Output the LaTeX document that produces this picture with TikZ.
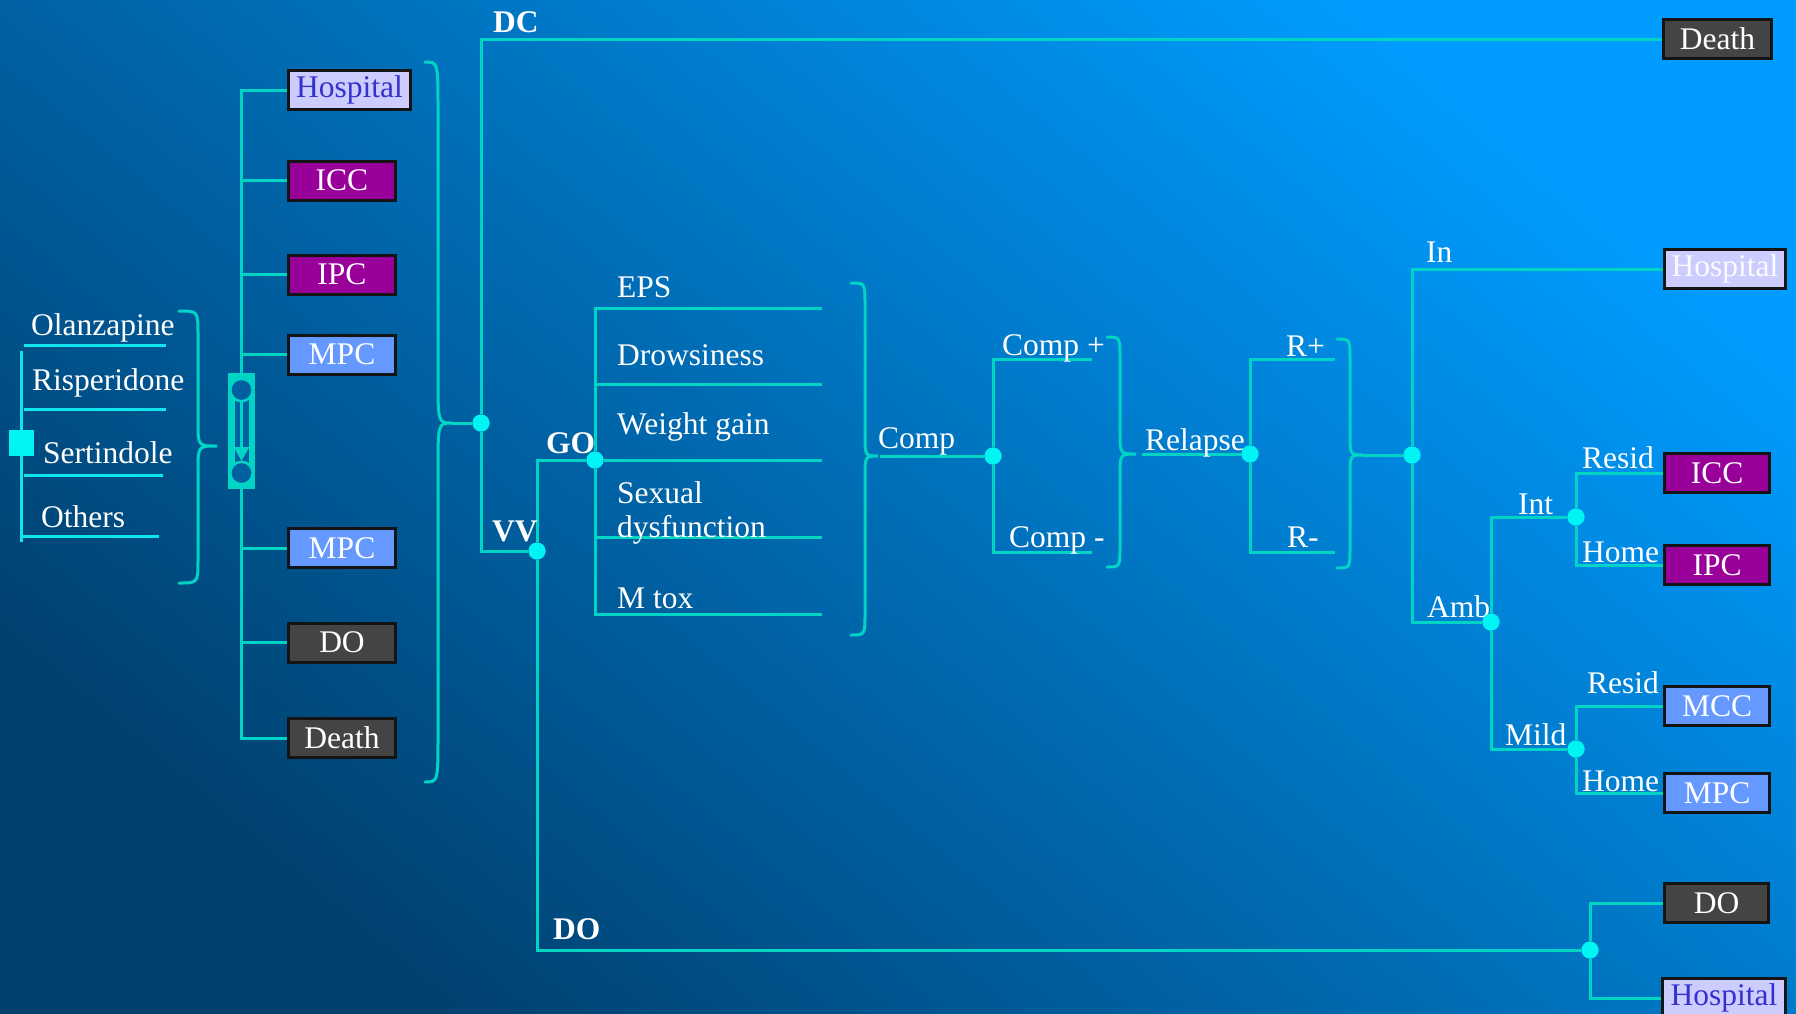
\documentclass[tikz,border=0pt]{standalone}
\usepackage{fontspec}
\setmainfont{Liberation Serif}
\usetikzlibrary{arrows.meta}
\definecolor{bgdark}{HTML}{00406F}
\definecolor{bgbright}{HTML}{009CFF}
\definecolor{tl}{HTML}{00D4C4}
\definecolor{dlc}{HTML}{10E4EC}
\definecolor{cy}{HTML}{00F4F4}
\definecolor{lav}{HTML}{CCCCFF}
\definecolor{purp}{HTML}{990099}
\definecolor{mblue}{HTML}{6699FF}
\definecolor{dgrey}{HTML}{444444}
\definecolor{hblue}{HTML}{3333CC}
\definecolor{mkbg}{HTML}{0060A0}
\newcommand\mybrace[7]{%
  \draw[brc] (#1,#4) .. controls (#2,#4) .. (#2,{#4+#7}) -- (#2,{#5-#7})
    .. controls (#2,#5) .. (#3,#5) .. controls (#2,#5) .. (#2,{#5+#7})
    -- (#2,{#6-#7}) .. controls (#2,#6) .. (#1,#6);}
\begin{document}
\begin{tikzpicture}[x=1pt,y=-1pt,
  every node/.style={font=\fontsize{31.5}{36}\selectfont, text=white},
  conn/.style={draw=tl, line width=3pt},
  dlist/.style={draw=dlc, line width=3pt},
  brc/.style={draw=tl, line width=3pt, line cap=round},
  dot/.style={circle, fill=cy, inner sep=0pt, minimum size=17pt},
  lbl/.style={anchor=base west, inner sep=0pt},
  blbl/.style={lbl, font=\fontsize{31.5}{36}\selectfont\bfseries},
  boxbase/.style={draw=black!92, line width=3pt, minimum height=39pt, inner sep=0pt, minimum width=107pt},
  hospbox/.style={boxbase, fill=lav, text=hblue, minimum width=122pt},
  hospwbox/.style={boxbase, fill=lav, text=white!92!lav, minimum width=121pt},
  iccbox/.style={boxbase, fill=purp},
  mpcbox/.style={boxbase, fill=mblue},
  greybox/.style={boxbase, fill=dgrey}
]
% background
\useasboundingbox (0,0) rectangle (1796,1013);
\shade[bottom color=bgdark, top color=bgbright, shading angle=-40] (0,0) rectangle (1796,1013);

% ---------- drug list ----------
\coordinate (dv1) at (21,351);
\coordinate (dv2) at (21,542);
\draw[dlist] (dv1) -- (dv2);
\node[lbl] (olz) at (31,335) {Olanzapine};
\node[lbl] (ris) at (32,390) {Risperidone};
\node[lbl] (ser) at (43,463) {Sertindole};
\node[lbl] (oth) at (41,527) {Others};
\coordinate (u1a) at (24,345); \coordinate (u1b) at (166,345);
\coordinate (u2a) at (24,409); \coordinate (u2b) at (166,409);
\coordinate (u3a) at (24,475); \coordinate (u3b) at (163,475);
\coordinate (u4a) at (20,536); \coordinate (u4b) at (159,536);
\draw[dlist] (u1a) -- (u1b);
\draw[dlist] (u2a) -- (u2b);
\draw[dlist] (u3a) -- (u3b);
\draw[dlist] (u4a) -- (u4b);
\node[fill=cy, minimum width=25pt, minimum height=26pt, inner sep=0pt] (sq) at (21.5,443) {};
\mybrace{179}{198}{217}{311}{446}{583}{24}

% ---------- Markov symbol and left tree ----------
\node[fill=tl, minimum width=27pt, minimum height=116pt, inner sep=0pt] (mk) at (241.5,431) {};
\fill[mkbg] (234.5,392) rectangle (248.5,471);
\draw[tl, line width=2.5pt, fill=mkbg] (241.5,390) circle[radius=11.2];
\draw[tl, line width=2.5pt, fill=mkbg] (241.5,473) circle[radius=11.2];
\draw[tl, line width=3pt, -{Triangle[length=14pt,width=15pt]}] (241.5,402) -- (241.5,461);

\node[hospbox] (lHosp) at (349.5,90) {Hospital};
\node[iccbox] (lICC) at (342,180.5) {ICC};
\node[iccbox] (lIPC) at (342,274.5) {IPC};
\node[mpcbox] (lMPC) at (342,354.5) {MPC};
\node[mpcbox] (lMPCb) at (342,548) {MPC};
\node[greybox] (lDO) at (342,642.5) {DO};
\node[greybox] (lDeath) at (342,738) {Death};
\draw[conn] (mk.north) |- (lHosp.west);
\draw[conn] (mk.north) |- (lICC.west);
\draw[conn] (mk.north) |- (lIPC.west);
\draw[conn] (mk.north) |- (lMPC.west);
\draw[conn] (mk.south) |- (lMPCb.west);
\draw[conn] (mk.south) |- (lDO.west);
\draw[conn] (mk.south) |- (lDeath.west);

\mybrace{425}{438}{452}{62}{423}{782}{48}

% ---------- main tree ----------
\node[dot] (dBig) at (481,423) {};
\node[dot] (dVV) at (537,551) {};
\node[dot] (dGO) at (595,460) {};
\node[dot] (dComp) at (993,456) {};
\node[dot] (dRel) at (1250,454) {};
\node[dot] (dR) at (1412,455) {};
\node[dot] (dInt) at (1576,517) {};
\node[dot] (dAmb) at (1491,622) {};
\node[dot] (dMild) at (1576,749) {};
\node[dot] (dDO) at (1590,950) {};

\node[greybox, minimum width=108pt] (rDeath) at (1717.5,39) {Death};
\node[hospwbox] (rHosp) at (1725,269) {Hospital};
\node[iccbox, minimum width=105pt] (rICC) at (1717,473) {ICC};
\node[iccbox, minimum width=105pt] (rIPC) at (1717,565) {IPC};
\node[mpcbox, minimum width=105pt] (rMCC) at (1717,706) {MCC};
\node[mpcbox, minimum width=105pt] (rMPC) at (1717,793) {MPC};
\node[greybox, minimum width=104pt] (rDO) at (1716.5,903) {DO};
\node[hospbox, minimum width=123pt] (rHospb) at (1724,998) {Hospital};

\coordinate (b2tip) at (452,423);
\draw[conn] (b2tip) -- (dBig);
\draw[conn] (dBig) |- (rDeath.west);
\draw[conn] (dBig) |- (dVV);
\draw[conn] (dVV) |- (dGO);
\draw[conn] (dVV) |- (dDO);
\node[blbl] (lDC) at (493,32) {DC};
\node[blbl] (lVV) at (492,541) {VV};
\node[blbl] (lGO) at (546,453) {GO};
\node[blbl] (lDOl) at (553,939) {DO};

% side effects
\coordinate (e1) at (822,308);
\coordinate (e2) at (822,384);
\coordinate (e3) at (822,460);
\coordinate (e4) at (822,537);
\coordinate (e5) at (822,614);
\draw[conn] (dGO) |- (e1);
\draw[conn] (dGO) |- (e2);
\draw[conn] (dGO) -- (e3);
\draw[conn] (dGO) |- (e4);
\draw[conn] (dGO) |- (e5);
\node[lbl] (tEPS) at (617,297) {EPS};
\node[lbl] (tDrow) at (617,365) {Drowsiness};
\node[lbl] (tWg) at (617,434) {Weight gain};
\node[lbl] (tSex) at (617,503) {Sexual};
\node[lbl] (tDys) at (617,537) {dysfunction};
\node[lbl] (tMt) at (617,608) {M tox};
\mybrace{851}{865}{878}{283}{456}{635}{22}

% compliance
\coordinate (b3tip) at (880,456);
\draw[conn] (b3tip) -- (dComp);
\coordinate (cp) at (1092,359);
\coordinate (cm) at (1092,552);
\draw[conn] (dComp) |- (cp);
\draw[conn] (dComp) |- (cm);
\node[lbl] (tComp) at (878,448) {Comp};
\node[lbl] (tCp) at (1002,355) {Comp +};
\node[lbl] (tCm) at (1009,547) {Comp -};
\mybrace{1107}{1120}{1136}{337}{454}{567}{22}

% relapse
\coordinate (b4tip) at (1142,454);
\draw[conn] (b4tip) -- (dRel);
\coordinate (rp) at (1335,359);
\coordinate (rm) at (1335,552);
\draw[conn] (dRel) |- (rp);
\draw[conn] (dRel) |- (rm);
\node[lbl] (tRel) at (1145,450) {Relapse};
\node[lbl] (tRp) at (1286,356) {R+};
\node[lbl] (tRm) at (1287,547) {R-};
\mybrace{1337}{1350}{1363}{339}{455}{568}{22}

% setting
\coordinate (b5tip) at (1363,455);
\draw[conn] (b5tip) -- (dR);
\draw[conn] (dR) |- (rHosp.west);
\draw[conn] (dR) |- (dAmb);
\draw[conn] (dAmb) |- (dInt);
\draw[conn] (dAmb) |- (dMild);
\draw[conn] (dInt) |- (rICC.west);
\draw[conn] (dInt) |- (rIPC.west);
\draw[conn] (dMild) |- (rMCC.west);
\draw[conn] (dMild) |- (rMPC.west);
\draw[conn] (dDO) |- (rDO.west);
\draw[conn] (dDO) |- (rHospb.west);
\node[lbl] (tIn) at (1426,262) {In};
\node[lbl] (tRes1) at (1582,468) {Resid};
\node[lbl] (tInt) at (1518,514) {Int};
\node[lbl] (tHome1) at (1582,562) {Home};
\node[lbl] (tAmb) at (1427,617) {Amb};
\node[lbl] (tRes2) at (1587,693) {Resid};
\node[lbl] (tMild) at (1505,745) {Mild};
\node[lbl] (tHome2) at (1582,791) {Home};

% dots on top
\foreach \d in {dBig,dVV,dGO,dComp,dRel,dR,dInt,dAmb,dMild,dDO}
  \fill[cy] (\d) circle[radius=8.5pt];
\end{tikzpicture}
\end{document}
